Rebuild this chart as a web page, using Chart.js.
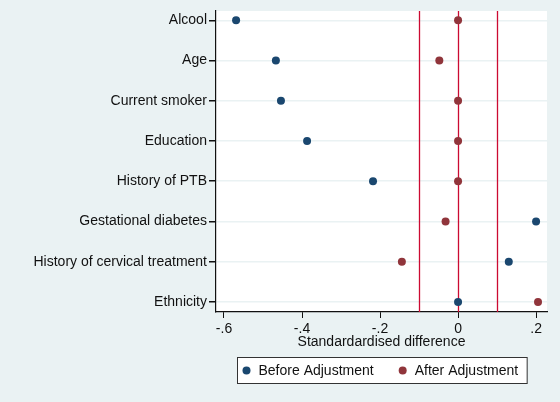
<!doctype html>
<html>
<head>
<meta charset="utf-8">
<title>Standardised difference</title>
<script src="https://cdn.jsdelivr.net/npm/chart.js"></script>
<style>
  html, body { margin: 0; padding: 0; background: #eaf2f3; }
</style>
</head>
<body>
<canvas id="chart" width="560" height="402"></canvas>
<script>
// Data (top row first)
var categories = ['Alcool', 'Age', 'Current smoker', 'Education', 'History of PTB',
                  'Gestational diabetes', 'History of cervical treatment', 'Ethnicity'];
var beforeAdj = [-0.569, -0.467, -0.454, -0.387, -0.218, 0.200, 0.130, 0.000];
var afterAdj  = [0.000, -0.048, 0.000, 0.000, 0.000, -0.032, -0.144, 0.205];
var xTicks = [-0.6, -0.4, -0.2, 0, 0.2];
var refLines = [-0.1, 0, 0.1];
var seriesNames = ['Before Adjustment', 'After Adjustment'];

var FONT = { family: "'Liberation Sans', Arial, sans-serif", size: 14 };

function toPoints(vals) {
    return vals.map(function (v, i) { return { x: v, y: i }; });
}

// Stata style label: -.6, .2, 0
function fmt(v) {
    if (v === 0) return '0';
    return String(v).replace('0.', '.');
}

// Backgrounds: grey page, white plot region
var bgPlugin = {
    id: 'bg',
    beforeDraw: function (chart) {
        var ctx = chart.ctx, a = chart.chartArea;
        ctx.save();
        ctx.fillStyle = '#eaf2f3';
        ctx.fillRect(0, 0, chart.width, chart.height);
        ctx.fillStyle = '#ffffff';
        ctx.fillRect(a.left, a.top, a.right - a.left, a.bottom - a.top);
        ctx.restore();
    },
    // vertical reference lines under the markers
    beforeDatasetsDraw: function (chart) {
        var ctx = chart.ctx, a = chart.chartArea, xs = chart.scales.x;
        ctx.save();
        ctx.strokeStyle = '#cc0a32';
        ctx.lineWidth = 1.3;
        refLines.forEach(function (v) {
            var px = Math.round(xs.getPixelForValue(v)) + 0.5;
            ctx.beginPath();
            ctx.moveTo(px, a.top);
            ctx.lineTo(px, a.bottom);
            ctx.stroke();
        });
        ctx.restore();
    },
    // boxed legend centred under the plot region
    afterDraw: function (chart) {
        var ctx = chart.ctx, a = chart.chartArea;
        ctx.save();
        ctx.font = FONT.size + 'px ' + FONT.family;
        var items = chart.data.datasets.map(function (d) {
            return { text: d.label, color: d.backgroundColor, w: ctx.measureText(d.label).width };
        });
        var padL = 9, mkGap = 12, itemGap = 29, padR = 9;
        var total = padL + padR;
        items.forEach(function (it, i) { total += mkGap + it.w + (i > 0 ? itemGap : 0); });
        var cx = (a.left + a.right) / 2;
        var left = Math.round(cx - total / 2) + 0.5;
        var top = chart.height - 44.5, h = 26;
        ctx.fillStyle = '#ffffff';
        ctx.fillRect(left, top, total, h);
        ctx.strokeStyle = '#333';
        ctx.lineWidth = 1;
        ctx.strokeRect(left, top, total, h);
        var x = left + padL, my = top + h / 2;
        ctx.textBaseline = 'middle';
        items.forEach(function (it, i) {
            if (i > 0) x += itemGap;
            ctx.fillStyle = it.color;
            ctx.beginPath();
            ctx.arc(x, my, 4, 0, Math.PI * 2);
            ctx.fill();
            ctx.fillStyle = '#111';
            ctx.fillText(it.text, x + mkGap, my + 1);
            x += mkGap + it.w;
        });
        ctx.restore();
    }
};

new Chart(document.getElementById('chart'), {
    type: 'scatter',
    data: {
        datasets: [{
            label: seriesNames[0],
            data: toPoints(beforeAdj),
            backgroundColor: '#1a476f',
            borderColor: '#1a476f',
            pointRadius: 4,
            pointBorderWidth: 0
        }, {
            label: seriesNames[1],
            data: toPoints(afterAdj),
            backgroundColor: '#90353b',
            borderColor: '#90353b',
            pointRadius: 4,
            pointBorderWidth: 0
        }]
    },
    options: {
        responsive: false,
        animation: false,
        layout: { padding: { top: 11, right: 13, bottom: 51, left: 0 } },
        plugins: {
            legend: { display: false },
            tooltip: { enabled: false }
        },
        scales: {
            x: {
                type: 'linear',
                min: -0.6205,
                max: 0.228,
                afterBuildTicks: function (s) {
                    s.ticks = xTicks.map(function (v) { return { value: v }; });
                },
                ticks: {
                    callback: function (v) { return fmt(v); },
                    color: '#111',
                    font: FONT,
                    padding: 3,
                    maxRotation: 0
                },
                grid: { drawOnChartArea: false, tickColor: '#111', tickLength: 6 },
                border: { color: '#111', width: 1.2 },
                title: {
                    display: true,
                    text: 'Standardardised difference',
                    color: '#111',
                    font: FONT,
                    padding: { top: 0, bottom: 0 }
                },
                afterFit: function (s) { s.height = 39; }
            },
            y: {
                type: 'linear',
                reverse: true,
                min: -0.23,
                max: 7.25,
                afterBuildTicks: function (s) {
                    s.ticks = categories.map(function (c, i) { return { value: i }; });
                },
                ticks: {
                    callback: function (v) { return categories[v]; },
                    color: '#111',
                    font: FONT,
                    padding: 2,
                    autoSkip: false
                },
                grid: { color: '#eaf2f3', tickColor: '#111', tickLength: 7, lineWidth: 1.5 },
                border: { color: '#111', width: 1.2 },
                afterFit: function (s) { s.width = 216; }
            }
        }
    },
    plugins: [bgPlugin]
});
</script>
</body>
</html>
